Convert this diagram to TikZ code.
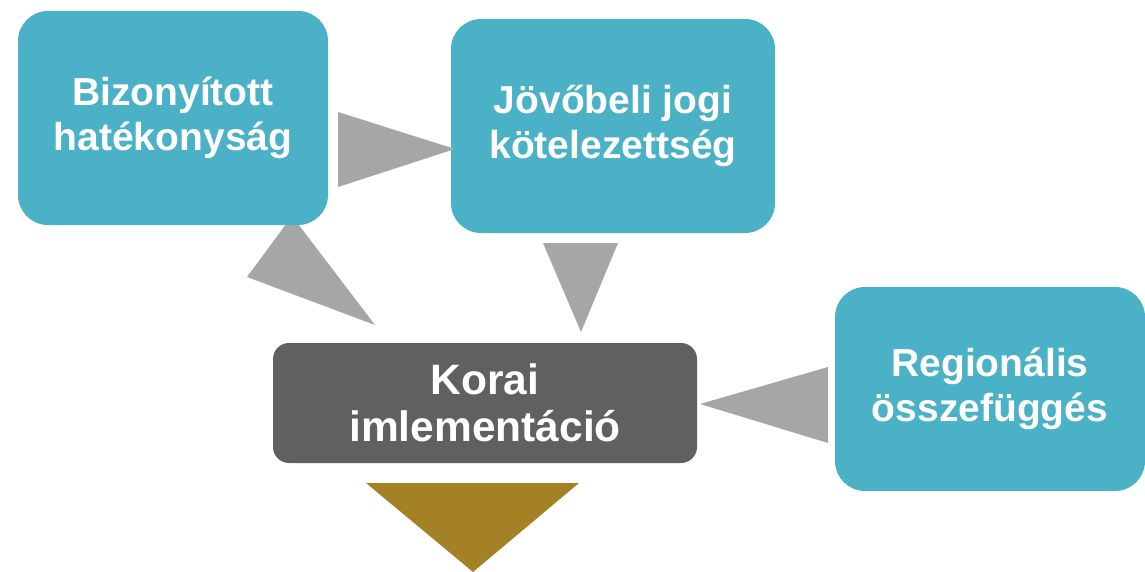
\documentclass[tikz,border=0pt]{standalone}
\usepackage{fontspec}
\setmainfont{Liberation Sans}
\definecolor{teal}{HTML}{4BB1C6}
\definecolor{darkbox}{HTML}{606060}
\definecolor{arrowgray}{HTML}{A6A6A6}
\definecolor{gold}{HTML}{A58125}
\begin{document}
\begin{tikzpicture}[x=1pt,y=-1pt,
  box/.style={rectangle, rounded corners=30pt, fill=teal, text=white, align=center, inner sep=0pt,
    font=\fontsize{39}{45}\selectfont\bfseries},
  darkbox/.style={box, fill=darkbox, rounded corners=16pt, font=\fontsize{42.5}{47}\selectfont\bfseries},
  tri/.style={fill=arrowgray, draw=none}]
\useasboundingbox (0,0) rectangle (1145,572);
% triangle behind box1
\coordinate (t1a) at (292,216);
\coordinate (t1b) at (247,277);
\coordinate (t1c) at (375,325);
\fill[tri] (t1a) -- (t1b) -- (t1c) -- cycle;
% boxes
\node[box, minimum width=310pt, minimum height=214pt] (b1) at (173,118) {Bizonyított\\hatékonyság};
\node[box, minimum width=324pt, minimum height=214pt] (b2) at (613,126) {Jövőbeli jogi\\kötelezettség};
\node[darkbox, minimum width=424pt, minimum height=120pt] (b3) at (485,403) {Korai\\imlementáció};
\node[box, minimum width=310pt, minimum height=204pt] (b4) at (990,389) {Regionális\\összefüggés};
% other triangles
\fill[tri] (338,112) -- (338,187) -- (455,149) -- cycle;
\fill[tri] (543,243) -- (618,243) -- (581,332) -- cycle;
\fill[tri] (828,367) -- (828,443) -- (700,404) -- cycle;
\fill[gold] (366,483) -- (579,483) -- (473,572) -- cycle;
\end{tikzpicture}
\end{document}
